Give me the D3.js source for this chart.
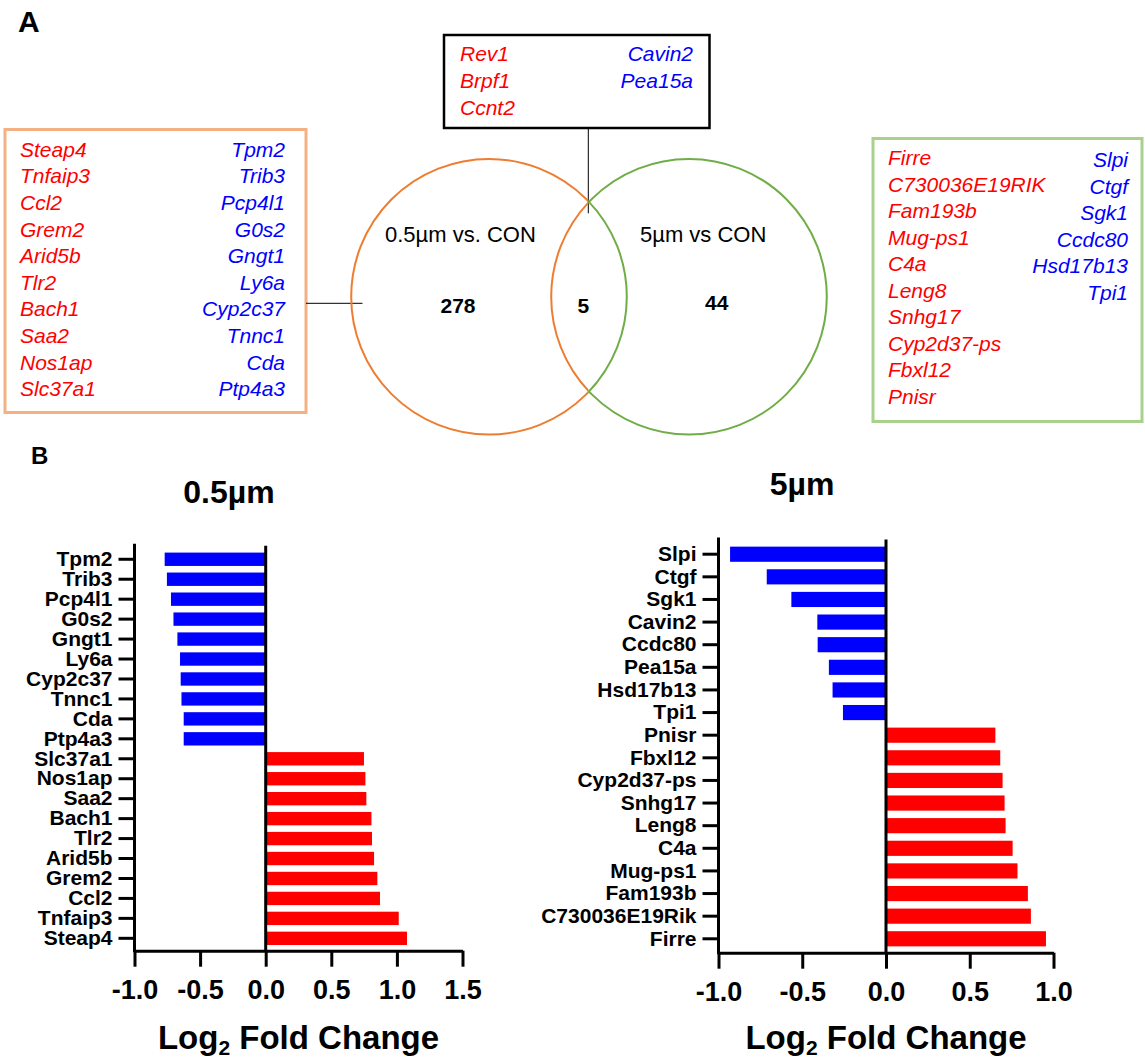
<!DOCTYPE html>
<html>
<head>
<meta charset="utf-8">
<script src="https://cdn.jsdelivr.net/npm/d3@7"></script>
<style>
  html, body { margin: 0; padding: 0; background: #fff; }
  svg { display: block; font-family: "Liberation Sans", Arial, sans-serif; }
</style>
</head>
<body>
<svg id="fig" width="1145" height="1059"></svg>
<script>
// ---- Panel A: Venn overlap of differentially expressed genes ----
const vennSets = ["0.5µm vs. CON", "5µm vs CON"];
const vennCounts = [278, 5, 44];           // only 0.5µm, shared, only 5µm

const box05Up = ["Steap4", "Tnfaip3", "Ccl2", "Grem2", "Arid5b", "Tlr2", "Bach1", "Saa2", "Nos1ap", "Slc37a1"];
const box05Down = ["Tpm2", "Trib3", "Pcp4l1", "G0s2", "Gngt1", "Ly6a", "Cyp2c37", "Tnnc1", "Cda", "Ptp4a3"];
const boxSharedUp = ["Rev1", "Brpf1", "Ccnt2"];
const boxSharedDown = ["Cavin2", "Pea15a"];
const box5Up = ["Firre", "C730036E19RIK", "Fam193b", "Mug-ps1", "C4a", "Leng8", "Snhg17", "Cyp2d37-ps", "Fbxl12", "Pnisr"];
const box5Down = ["Slpi", "Ctgf", "Sgk1", "Ccdc80", "Hsd17b13", "Tpi1"];

// ---- Panel B: log2 fold changes ----
const genes05 = ["Tpm2", "Trib3", "Pcp4l1", "G0s2", "Gngt1", "Ly6a", "Cyp2c37", "Tnnc1", "Cda", "Ptp4a3",
                 "Slc37a1", "Nos1ap", "Saa2", "Bach1", "Tlr2", "Arid5b", "Grem2", "Ccl2", "Tnfaip3", "Steap4"];
const fc05 = [-0.77, -0.753, -0.722, -0.703, -0.673, -0.653, -0.648, -0.642, -0.625, -0.625,
              0.749, 0.76, 0.767, 0.806, 0.81, 0.826, 0.851, 0.871, 1.014, 1.077];
const ticks05 = [-1.0, -0.5, 0.0, 0.5, 1.0, 1.5];

const genes5 = ["Slpi", "Ctgf", "Sgk1", "Cavin2", "Ccdc80", "Pea15a", "Hsd17b13", "Tpi1",
                "Pnisr", "Fbxl12", "Cyp2d37-ps", "Snhg17", "Leng8", "C4a", "Mug-ps1", "Fam193b", "C730036E19Rik", "Firre"];
const fc5 = [-0.931, -0.712, -0.565, -0.41, -0.408, -0.341, -0.319, -0.257,
             0.653, 0.682, 0.696, 0.708, 0.714, 0.756, 0.785, 0.847, 0.865, 0.955];
const ticks5 = [-1.0, -0.5, 0.0, 0.5, 1.0];

const RED = "#ff0000", BLUE = "#0000ff";
const svg = d3.select("#fig");

// panel letters
svg.append("text").attr("x", 18).attr("y", 31.5).attr("font-size", 30).attr("font-weight", "bold").text("A");
svg.append("text").attr("x", 31).attr("y", 464).attr("font-size", 24).attr("font-weight", "bold").text("B");

// ---------- gene list boxes ----------
function geneBox(rect, stroke, sw, up, down, upX, downX, upY0, downY0, dy) {
  svg.append("rect").attr("x", rect[0]).attr("y", rect[1]).attr("width", rect[2]).attr("height", rect[3])
    .attr("fill", "#fff").attr("stroke", stroke).attr("stroke-width", sw);
  const g = svg.append("g").attr("font-size", 21).attr("font-style", "italic");
  g.selectAll("text.up").data(up).join("text").attr("class", "up")
    .attr("x", upX).attr("y", (d, i) => upY0 + i * dy).attr("fill", RED).text(d => d);
  g.selectAll("text.down").data(down).join("text").attr("class", "down")
    .attr("x", downX).attr("y", (d, i) => downY0 + i * dy).attr("text-anchor", "end").attr("fill", BLUE).text(d => d);
}
geneBox([5, 129.5, 301, 283], "#f4b183", 3, box05Up, box05Down, 20, 285, 156.7, 156.7, 26.6);
geneBox([444, 35, 265.5, 93], "#000", 2.5, boxSharedUp, boxSharedDown, 460, 693, 61, 61, 26.8);
geneBox([873, 138.5, 269, 283], "#a9d18e", 3, box5Up, box5Down, 888, 1128, 165, 167.3, 26.5);

// connectors from boxes to the diagram
svg.append("line").attr("x1", 306).attr("x2", 362.5).attr("y1", 303.3).attr("y2", 303.3).attr("stroke", "#000").attr("stroke-width", 1);
svg.append("line").attr("x1", 588.3).attr("x2", 588.3).attr("y1", 128.5).attr("y2", 213.3).attr("stroke", "#000").attr("stroke-width", 1);

// ---------- Venn circles ----------
const circles = [{ cx: 489, cy: 296.7, r: 137.8 }, { cx: 689, cy: 296.7, r: 137.8 }];
const splitX = 588.5;
const defs = svg.append("defs");
defs.append("clipPath").attr("id", "leftHalf").append("rect").attr("x", 0).attr("y", 0).attr("width", splitX).attr("height", 1059);
defs.append("clipPath").attr("id", "rightHalf").append("rect").attr("x", splitX).attr("y", 0).attr("width", 1145 - splitX).attr("height", 1059);
[["leftHalf", "#ed7d31"], ["rightHalf", "#70ad47"]].forEach(([clip, col]) => {
  svg.append("g").attr("clip-path", `url(#${clip})`)
    .selectAll("circle").data(circles).join("circle")
    .attr("cx", d => d.cx).attr("cy", d => d.cy).attr("r", d => d.r)
    .attr("fill", "none").attr("stroke", col).attr("stroke-width", 2);
});
svg.append("text").attr("x", 385).attr("y", 241.7).attr("font-size", 22).text(vennSets[0]);
svg.append("text").attr("x", 640).attr("y", 241.7).attr("font-size", 22).text(vennSets[1]);
const countPos = [[458, 312.7], [583.3, 313.3], [716.7, 310]];
svg.append("g").attr("font-size", 21).attr("font-weight", "bold").attr("text-anchor", "middle")
  .selectAll("text").data(vennCounts).join("text")
  .attr("x", (d, i) => countPos[i][0]).attr("y", (d, i) => countPos[i][1]).text(d => d);

// ---------- bar charts ----------
function barChart(opt) {
  const { genes, values, ticks, xRange, yRange, axisY, title, titleX, titleY } = opt;
  const x = d3.scaleLinear().domain([ticks[0], ticks[ticks.length - 1]]).range(xRange);
  const y = d3.scaleBand().domain(genes).range(yRange).paddingInner(0.33).paddingOuter(0.165);
  const g = svg.append("g");
  const top = yRange[0] - 5.5;

  g.selectAll("rect").data(genes).join("rect")
    .attr("x", (d, i) => Math.min(x(0), x(values[i])))
    .attr("width", (d, i) => Math.abs(x(values[i]) - x(0)))
    .attr("y", d => y(d)).attr("height", y.bandwidth())
    .attr("fill", (d, i) => values[i] < 0 ? BLUE : RED);

  // zero line
  g.append("line").attr("x1", x(0)).attr("x2", x(0)).attr("y1", top + 2).attr("y2", axisY)
    .attr("stroke", "#000").attr("stroke-width", 3);

  // y axis
  const ya = g.append("g").attr("transform", `translate(${xRange[0]},0)`)
    .call(d3.axisLeft(y).tickSize(16).tickPadding(6).tickSizeOuter(0));
  ya.select(".domain").remove();
  ya.append("line").attr("x1", 0).attr("x2", 0).attr("y1", top).attr("y2", axisY + 1.5)
    .attr("stroke", "#000").attr("stroke-width", 3);
  ya.selectAll(".tick line").attr("stroke-width", 3);
  ya.selectAll(".tick text").attr("font-size", 21).attr("font-weight", "bold")
    .attr("font-family", "'Liberation Sans', Arial, sans-serif").attr("fill", "#000");

  // x axis
  const xa = g.append("g").attr("transform", `translate(0,${axisY})`)
    .call(d3.axisBottom(x).tickValues(ticks).tickFormat(d => d.toFixed(1)).tickSize(16).tickPadding(13).tickSizeOuter(0));
  xa.select(".domain").attr("stroke-width", 3);
  xa.selectAll(".tick line").attr("stroke-width", 3);
  xa.selectAll(".tick text").attr("font-size", 27).attr("font-weight", "bold")
    .attr("font-family", "'Liberation Sans', Arial, sans-serif").attr("fill", "#000");

  // axis title with subscript
  const t = g.append("text").attr("x", (xRange[0] + xRange[1]) / 2).attr("y", 1049)
    .attr("text-anchor", "middle").attr("font-size", 33).attr("font-weight", "bold");
  t.append("tspan").text("Log");
  t.append("tspan").attr("font-size", 21).attr("dy", 6).text("2");
  t.append("tspan").attr("dy", -6).text(" Fold Change");

  // chart title
  g.append("text").attr("x", titleX).attr("y", titleY).attr("text-anchor", "middle")
    .attr("font-size", 32).attr("font-weight", "bold").text(title);
}

barChart({ genes: genes05, values: fc05, ticks: ticks05, xRange: [134.5, 462.5], yRange: [549.3, 948.3],
           axisY: 950.7, title: "0.5µm", titleX: 229, titleY: 503 });
barChart({ genes: genes5, values: fc5, ticks: ticks5, xRange: [718.5, 1053.5], yRange: [542.9, 950.1],
           axisY: 952.7, title: "5µm", titleX: 802, titleY: 495 });
</script>
</body>
</html>
